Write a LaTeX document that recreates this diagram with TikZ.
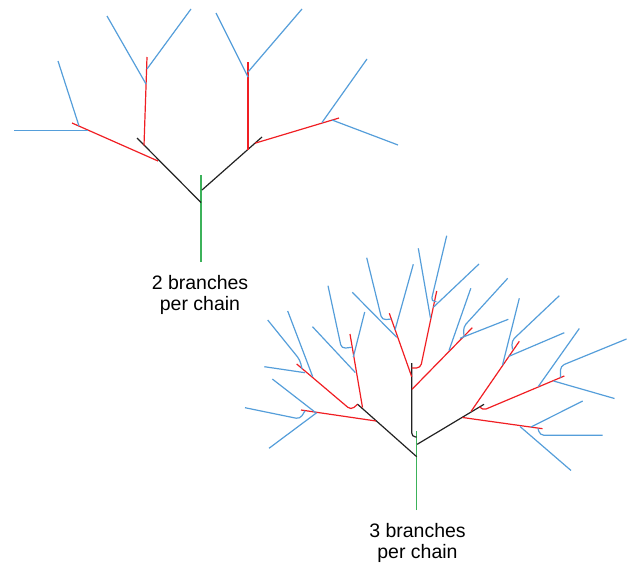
\documentclass[tikz,border=0pt]{standalone}
\usepackage{fontspec}
\setmainfont{Liberation Sans}
\usetikzlibrary{positioning}

\definecolor{trunkgreen}{RGB}{60,178,90}
\definecolor{limbblack}{RGB}{34,34,34}
\definecolor{twigred}{RGB}{240,30,35}
\definecolor{leafblue}{RGB}{85,158,218}

\begin{document}
\begin{tikzpicture}[x=1pt,y=-1pt,
  trunk/.style={draw=trunkgreen, line width=1.4pt},
  limb/.style={draw=limbblack, line width=1.2pt},
  twig/.style={draw=twigred, line width=1.2pt},
  leaf/.style={draw=leafblue, line width=1.2pt},
  hook/.style={rounded corners=4pt},
  chainlabel/.style={font=\fontsize{19.5}{21}\selectfont, align=center, inner sep=0pt, anchor=base}]
\useasboundingbox (0,0) rectangle (632,565);

% 2 branches per chain
\draw [trunk] (201,262) -- (201,175);
\draw [limb] (201,202.5) -- (137,138);
\draw [limb] (202,190) -- (262,137);
\draw [twig] (158,161) -- (72,123);
\draw [twig] (144,145.5) -- (147,57);
\draw [twig] (248,149.5) -- (248,62);
\draw [twig] (255,143.2) -- (339,118);
\draw [leaf] (79,126) -- (58,61);
\draw [leaf] (88,130.5) -- (14,130.5);
\draw [leaf] (146,84) -- (107,16);
\draw [leaf] (147,69) -- (191,9);
\draw [leaf] (248,77) -- (216,13);
\draw [leaf] (248,72) -- (302,9);
\draw [leaf] (322,122.5) -- (367,59);
\draw [leaf] (332,120) -- (398,145);
\node [chainlabel] (labeltwo) at (200,310) {2 branches\\per chain};

% 3 branches per chain
\draw [trunk] (416.7,510) -- (416.7,431);
\draw [limb] (416.7,456.7) -- (357.3,404);
\draw [limb] (417.2,444.3) -- (484,404.3);
\draw [limb, hook] (416.7,437) -- (411.7,437) -- (411.7,363);

% left limb
\draw [twig] (376,421) -- (301,410);
\draw [twig] (362.5,407.5) -- (350,334);
\draw [twig, hook] (357.3,404.5) -- (351,410) -- (296.7,364);
\draw [leaf] (315.5,412.5) -- (272.3,379);
\draw [leaf] (316.7,412.7) -- (269,448.3);
\draw [leaf, hook] (305,410.8) -- (300,419) -- (245,407.7);
\draw [leaf] (355.3,372.5) -- (312.5,326.7);
\draw [leaf] (353.3,357) -- (364.7,312);
\draw [leaf, hook] (351.7,347.3) -- (341.5,348.5) -- (328,285.7);
\draw [leaf] (312.7,376.7) -- (287.7,311);
\draw [leaf] (305,372.7) -- (264.3,366.7);
\draw [leaf, hook] (302,369) -- (300,360) -- (267.7,320);

% middle limb
\draw [twig] (412,389.3) -- (472.3,327.7);
\draw [twig] (411.7,376.7) -- (389.3,313.3);
\draw [twig, hook] (411.7,368) -- (420.5,368) -- (436.7,291);
\draw [leaf] (449,350.5) -- (470.8,288.3);
\draw [leaf] (460,338.3) -- (508.3,319.3);
\draw [leaf, hook] (464,336) -- (463.3,327) -- (507.7,278.3);
\draw [leaf] (396.7,337.3) -- (352.3,292.3);
\draw [leaf] (395,330) -- (413.3,264.3);
\draw [leaf, hook] (391,319) -- (382,320) -- (366.7,257.7);
\draw [leaf] (430.5,318.3) -- (418.3,248.3);
\draw [leaf] (433.3,307.3) -- (479,264);
\draw [leaf, hook] (434.5,301.5) -- (431,301.5) -- (446.7,235.7);

% right limb
\draw [twig] (462.5,417.5) -- (542.5,428.7);
\draw [twig] (471,411.5) -- (519.3,341.3);
\draw [twig, hook] (479.5,406.6) -- (482.5,410.5) -- (564.3,376);
\draw [leaf] (520,426.5) -- (571,470.5);
\draw [leaf] (531,427) -- (582.7,401);
\draw [leaf, hook] (538,428.5) -- (540,435.3) -- (602.7,435.3);
\draw [leaf] (502.5,365) -- (519.3,298.3);
\draw [leaf] (508.5,356.5) -- (564.3,332.7);
\draw [leaf, hook] (512.5,349.5) -- (511.5,341) -- (559.3,295.7);
\draw [leaf] (538.3,386.5) -- (579.3,328.5);
\draw [leaf] (553.5,381) -- (614.5,398.5);
\draw [leaf, hook] (560.5,377.5) -- (560.5,366) -- (626.5,339);
\node [chainlabel] (labelthree) at (417.5,558.5) {3 branches\\per chain};
\end{tikzpicture}
\end{document}
